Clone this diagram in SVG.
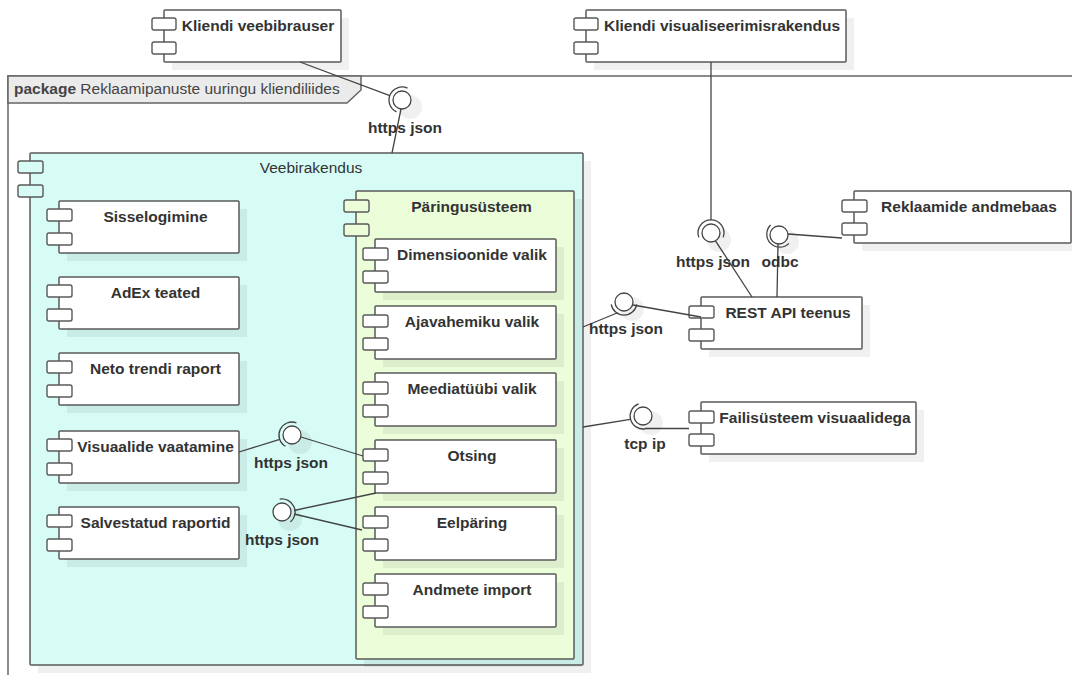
<svg xmlns="http://www.w3.org/2000/svg" width="1072" height="675" viewBox="0 0 1072 675">
<style>
.box{stroke:#595959;stroke-width:1.5;}
.w{fill:#ffffff;}
.c{fill:#d6fcf5;}
.g{fill:#ebfdd9;}
.sh{fill:#000000;fill-opacity:0.06;stroke:none;}
.pin{stroke:#595959;stroke-width:1.4;}
.t{font-family:"Liberation Sans",Arial,sans-serif;font-size:15.5px;font-weight:bold;fill:#333333;text-anchor:middle;}
.tn{font-family:"Liberation Sans",Arial,sans-serif;font-size:15.5px;font-weight:normal;fill:#333333;text-anchor:middle;}
.ln{stroke:#444444;stroke-width:1.3;fill:none;}
.ball{fill:#ffffff;stroke:#444444;stroke-width:1.3;}
.sock{fill:none;stroke:#444444;stroke-width:1.3;}
.csh{fill:#000000;fill-opacity:0.06;}
</style>
<rect width="1072" height="675" fill="#ffffff"/>

<g id="package">
<polyline points="8,675 8,76 1072,76" fill="none" stroke="#666666" stroke-width="1.5"/>
<polygon points="8,76 361,76 361,90 347,103 8,103" fill="#ebebeb" stroke="#666666" stroke-width="1.5"/>
<text x="14" y="94" font-family="Liberation Sans,Arial,sans-serif" font-size="15.5" fill="#444444"><tspan font-weight="bold">package</tspan> Reklaamipanuste uuringu kliendiliides</text>
</g>

<g id="browser">
<rect class="sh" x="172" y="18" width="177" height="52"/>
<rect class="box w" x="164" y="10" width="177" height="52" rx="1"/>
<rect class="pin w" x="152" y="18" width="24" height="12" rx="2"/>
<rect class="pin w" x="152" y="42" width="24" height="12" rx="2"/>
<text class="t" x="258" y="31">Kliendi veebibrauser</text>
</g>

<g id="visapp">
<rect class="sh" x="594" y="18" width="260" height="52"/>
<rect class="box w" x="586" y="10" width="260" height="52" rx="1"/>
<rect class="pin w" x="574" y="18" width="24" height="12" rx="2"/>
<rect class="pin w" x="574" y="42" width="24" height="12" rx="2"/>
<text class="t" x="722" y="31">Kliendi visualiseerimisrakendus</text>
</g>

<g id="db">
<rect class="sh" x="862" y="199" width="217" height="52"/>
<rect class="box w" x="854" y="191" width="217" height="52" rx="1"/>
<rect class="pin w" x="842" y="200" width="25" height="12" rx="2"/>
<rect class="pin w" x="842" y="223" width="25" height="12" rx="2"/>
<text class="t" x="969" y="212">Reklaamide andmebaas</text>
</g>

<g id="rest">
<rect class="sh" x="709" y="305" width="161" height="52"/>
<rect class="box w" x="701" y="297" width="161" height="52" rx="1"/>
<rect class="pin w" x="689" y="306" width="25" height="12" rx="2"/>
<rect class="pin w" x="689" y="329" width="25" height="12" rx="2"/>
<text class="t" x="788" y="318">REST API teenus</text>
</g>

<g id="fs">
<rect class="sh" x="709" y="410" width="215" height="52"/>
<rect class="box w" x="701" y="402" width="215" height="52" rx="1"/>
<rect class="pin w" x="689" y="411" width="25" height="12" rx="2"/>
<rect class="pin w" x="689" y="434" width="25" height="12" rx="2"/>
<text class="t" x="815" y="423">Failisüsteem visuaalidega</text>
</g>

<g id="web">
<rect class="sh" x="38" y="161" width="553" height="512"/>
<rect class="box c" x="30" y="153" width="553" height="512" rx="1"/>
<rect class="pin c" x="18" y="161" width="25" height="12" rx="2"/>
<rect class="pin c" x="18" y="185" width="25" height="12" rx="2"/>
<text class="tn" x="311" y="173">Veebirakendus</text>
</g>

<g id="sisselogimine">
<rect class="sh" x="67" y="209" width="180" height="52"/>
<rect class="box w" x="59" y="201" width="180" height="52" rx="1"/>
<rect class="pin w" x="47" y="209" width="25" height="12" rx="2"/>
<rect class="pin w" x="47" y="233" width="25" height="12" rx="2"/>
<text class="t" x="155.5" y="222">Sisselogimine</text>
</g>

<g id="adex">
<rect class="sh" x="67" y="285" width="180" height="52"/>
<rect class="box w" x="59" y="277" width="180" height="52" rx="1"/>
<rect class="pin w" x="47" y="285" width="25" height="12" rx="2"/>
<rect class="pin w" x="47" y="309" width="25" height="12" rx="2"/>
<text class="t" x="155.5" y="298">AdEx teated</text>
</g>

<g id="neto">
<rect class="sh" x="67" y="361" width="180" height="52"/>
<rect class="box w" x="59" y="353" width="180" height="52" rx="1"/>
<rect class="pin w" x="47" y="361" width="25" height="12" rx="2"/>
<rect class="pin w" x="47" y="385" width="25" height="12" rx="2"/>
<text class="t" x="155.5" y="374">Neto trendi raport</text>
</g>

<g id="visuaalid">
<rect class="sh" x="67" y="439" width="180" height="52"/>
<rect class="box w" x="59" y="431" width="180" height="52" rx="1"/>
<rect class="pin w" x="47" y="439" width="25" height="12" rx="2"/>
<rect class="pin w" x="47" y="463" width="25" height="12" rx="2"/>
<text class="t" x="155.5" y="452">Visuaalide vaatamine</text>
</g>

<g id="salvestatud">
<rect class="sh" x="67" y="515" width="180" height="52"/>
<rect class="box w" x="59" y="507" width="180" height="52" rx="1"/>
<rect class="pin w" x="47" y="515" width="25" height="12" rx="2"/>
<rect class="pin w" x="47" y="539" width="25" height="12" rx="2"/>
<text class="t" x="155.5" y="528">Salvestatud raportid</text>
</g>

<g id="paring">
<rect class="sh" x="364" y="199" width="218" height="468"/>
<rect class="box g" x="356" y="191" width="218" height="468" rx="1"/>
<rect class="pin g" x="344" y="200" width="25" height="12" rx="2"/>
<rect class="pin g" x="344" y="224" width="25" height="12" rx="2"/>
<text class="t" x="471.5" y="212">Päringusüsteem</text>
</g>

<g id="dimensioonid">
<rect class="sh" x="383" y="247" width="181" height="53"/>
<rect class="box w" x="375" y="239" width="181" height="53" rx="1"/>
<rect class="pin w" x="363" y="248" width="25" height="12" rx="2"/>
<rect class="pin w" x="363" y="271" width="25" height="12" rx="2"/>
<text class="t" x="472" y="260">Dimensioonide valik</text>
</g>

<g id="ajavahemik">
<rect class="sh" x="383" y="314" width="181" height="53"/>
<rect class="box w" x="375" y="306" width="181" height="53" rx="1"/>
<rect class="pin w" x="363" y="315" width="25" height="12" rx="2"/>
<rect class="pin w" x="363" y="338" width="25" height="12" rx="2"/>
<text class="t" x="472" y="327">Ajavahemiku valik</text>
</g>

<g id="meediatyyp">
<rect class="sh" x="383" y="381" width="181" height="53"/>
<rect class="box w" x="375" y="373" width="181" height="53" rx="1"/>
<rect class="pin w" x="363" y="382" width="25" height="12" rx="2"/>
<rect class="pin w" x="363" y="405" width="25" height="12" rx="2"/>
<text class="t" x="472" y="394">Meediatüübi valik</text>
</g>

<g id="otsing">
<rect class="sh" x="383" y="448" width="181" height="53"/>
<rect class="box w" x="375" y="440" width="181" height="53" rx="1"/>
<rect class="pin w" x="363" y="449" width="25" height="12" rx="2"/>
<rect class="pin w" x="363" y="472" width="25" height="12" rx="2"/>
<text class="t" x="472" y="461">Otsing</text>
</g>

<g id="eelparing">
<rect class="sh" x="383" y="515" width="181" height="53"/>
<rect class="box w" x="375" y="507" width="181" height="53" rx="1"/>
<rect class="pin w" x="363" y="516" width="25" height="12" rx="2"/>
<rect class="pin w" x="363" y="539" width="25" height="12" rx="2"/>
<text class="t" x="472" y="528">Eelpäring</text>
</g>

<g id="import">
<rect class="sh" x="383" y="582" width="181" height="53"/>
<rect class="box w" x="375" y="574" width="181" height="53" rx="1"/>
<rect class="pin w" x="363" y="583" width="25" height="12" rx="2"/>
<rect class="pin w" x="363" y="606" width="25" height="12" rx="2"/>
<text class="t" x="472" y="595">Andmete import</text>
</g>

<g id="connectors">
<line class="ln" x1="300" y1="62" x2="389.8" y2="95.6"/>
<line class="ln" x1="401" y1="109" x2="392" y2="153"/>
<line class="ln" x1="711" y1="62" x2="711" y2="220"/>
<line class="ln" x1="715.5" y1="240.8" x2="752" y2="297"/>
<line class="ln" x1="788" y1="234" x2="842" y2="238"/>
<line class="ln" x1="777" y1="297" x2="778" y2="244"/>
<line class="ln" x1="583" y1="327" x2="617" y2="313"/>
<line class="ln" x1="633" y1="305" x2="701" y2="317"/>
<line class="ln" x1="583" y1="427" x2="630.4" y2="419.4"/>
<line class="ln" x1="645" y1="428.5" x2="689" y2="428.5"/>
<line class="ln" x1="239" y1="452" x2="279.8" y2="439.4"/>
<line class="ln" x1="301" y1="437" x2="363" y2="456"/>
<line class="ln" x1="294" y1="510.5" x2="376" y2="493"/>
<line class="ln" x1="294" y1="514" x2="362" y2="530"/>
</g>

<g id="if-browser">
<circle class="csh" cx="410" cy="107" r="12"/>
<circle class="ball" cx="402" cy="100" r="9"/>
<path class="sock" d="M407.5,88.2 A13,13 0 0 0 396.5,111.8"/>
<text class="t" x="405" y="133">https json</text>
</g>

<g id="if-visapp">
<circle class="csh" cx="719" cy="240" r="12"/>
<circle class="ball" cx="711" cy="233" r="9"/>
<path class="sock" d="M723.2,237.4 A13,13 0 1 0 698.8,237.4"/>
<text class="t" x="713" y="267">https json</text>
</g>

<g id="if-odbc">
<circle class="csh" cx="787" cy="242" r="12"/>
<circle class="ball" cx="779" cy="235" r="9"/>
<path class="sock" d="M770.6,225 A13,13 0 1 0 789,243.4"/>
<text class="t" x="780" y="267">odbc</text>
</g>

<g id="if-rest">
<circle class="csh" cx="632" cy="309" r="12"/>
<circle class="ball" cx="624" cy="302" r="9"/>
<path class="sock" d="M611.2,304.3 A13,13 0 0 0 636.8,304.3"/>
<text class="t" x="626" y="334">https json</text>
</g>

<g id="if-tcp">
<circle class="csh" cx="651" cy="423" r="12"/>
<circle class="ball" cx="643" cy="416" r="9"/>
<path class="sock" d="M638.6,403.8 A13,13 0 0 0 645.3,428.8"/>
<text class="t" x="645" y="449">tcp ip</text>
</g>

<g id="if-visuaalid">
<circle class="csh" cx="300" cy="442" r="12"/>
<circle class="ball" cx="292" cy="435" r="9"/>
<path class="sock" d="M296.4,422.8 A13,13 0 0 0 285.5,446.3"/>
<text class="t" x="291" y="468">https json</text>
</g>

<g id="if-salvestatud">
<circle class="csh" cx="290" cy="519" r="12"/>
<circle class="ball" cx="282" cy="512" r="9"/>
<path class="sock" d="M290.4,522 A13,13 0 0 0 279.7,499.2"/>
<text class="t" x="282" y="545">https json</text>
</g>
</svg>
